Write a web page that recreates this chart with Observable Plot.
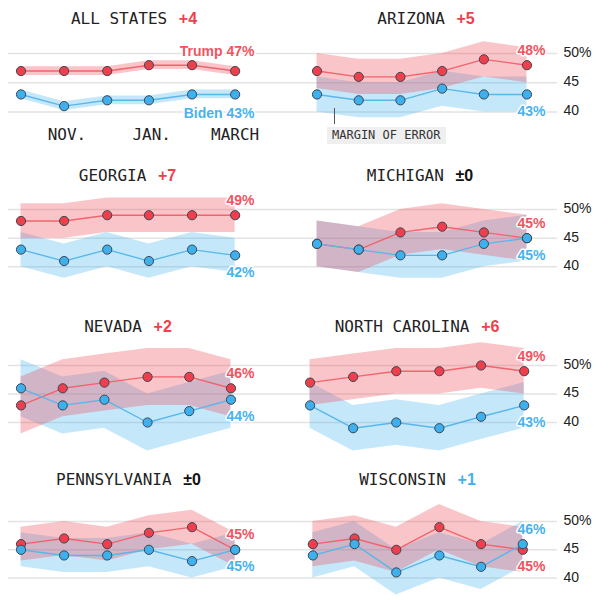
<!DOCTYPE html>
<html><head><meta charset="utf-8">
<script src="https://cdn.jsdelivr.net/npm/d3@7"></script>
<script src="https://cdn.jsdelivr.net/npm/@observablehq/plot@0.6"></script>
<style>
html,body{margin:0;padding:0;background:#fff;overflow:hidden;}
#chart{position:relative;width:615px;height:600px;}
#chart svg{position:absolute;}
.title{position:absolute;white-space:pre;font-family:"DejaVu Sans Mono",monospace;font-size:16px;line-height:20px;height:20px;color:#222;transform:translateX(-50%);}
.title .m{font-family:"Liberation Sans",Arial,sans-serif;font-weight:bold;margin-left:2px;}
.moe-tick{position:absolute;width:0;border-left:1.5px solid #555;}
.moe-box{position:absolute;background:#efefef;color:#333;font-family:"DejaVu Sans Mono",monospace;font-size:12px;line-height:17px;text-align:center;white-space:pre;}
</style></head><body><div id="chart"></div>
<script>
// ---------- data ----------
const stateNames = ["ALL STATES","ARIZONA","GEORGIA","MICHIGAN","NEVADA","NORTH CAROLINA","PENNSYLVANIA","WISCONSIN"];
const candidates = ["Trump","Biden"];
const trumpPct = [
  [47,47,47,48,48,47],
  [47,46,46,47,49,48],
  [48,48,49,49,49,49],
  [44,43,46,47,46,45],
  [43,46,47,48,48,46],
  [47,48,49,49,50,49],
  [46,47,46,48,49,45],
  [46,47,45,49,46,45]
];
const bidenPct = [
  [43,41,42,42,43,43],
  [43,42,42,44,43,43],
  [43,41,43,41,43,42],
  [44,43,42,42,44,45],
  [46,43,44,40,42,44],
  [43,39,40,39,41,43],
  [45,44,44,45,43,45],
  [44,46,41,44,42,46]
];
const marginOfError = [0.75, 3, 3, 4, 5, 4, 3, 4];
const pollDates = [
  ["2023-09-29","2023-10-30","2023-11-30","2023-12-30","2024-01-30","2024-03-01"],
  ["2023-09-29","2023-10-29","2023-11-28","2023-12-28","2024-01-27","2024-02-27"],
  ["2023-09-29","2023-10-30","2023-11-30","2023-12-30","2024-01-30","2024-03-01"],
  ["2023-09-29","2023-10-29","2023-11-28","2023-12-28","2024-01-27","2024-02-27"],
  ["2023-09-29","2023-10-29","2023-11-28","2023-12-29","2024-01-28","2024-02-27"],
  ["2023-09-24","2023-10-25","2023-11-25","2023-12-26","2024-01-25","2024-02-25"],
  ["2023-09-29","2023-10-30","2023-11-30","2023-12-30","2024-01-30","2024-03-01"],
  ["2023-09-26","2023-10-26","2023-11-25","2023-12-26","2024-01-25","2024-02-24"]
];
const monthTicks = ["2023-11-01","2024-01-01","2024-03-01"];
const monthLabels = ["NOV.","JAN.","MARCH"];
const gridTicks = [40, 45, 50];
const timeSpan = ["2023-09-20","2024-04-17"];
const moeNote = "MARGIN OF ERROR";

// ---------- layout / style ----------
const colLeft = [0, 296], colWidth = [300, 319], colML = [8, 4], colMR = [0, 58];
const labelDx = [-46, -12];
const rowGrid50 = [52.5, 208.7, 364.7, 520.7];
const rowGrid40 = [111, 266, 421.7, 577.3];
const rowTitleY = [18.8, 175.5, 326.5, 480];
const titleX = [134, 426, 127.5, 420, 128, 417, 128.5, 417.5];
const RED = "#ef3f4d", BLUE = "#3fb0ee";
const RED_LINE = "#f2636d", BLUE_LINE = "#58b8ec";
const RED_TXT = "#f2545f", BLUE_TXT = "#48b3ee";
const SANS = "Liberation Sans, Arial, sans-serif";
const MONO = "DejaVu Sans Mono, monospace";

const parse = d3.utcParse("%Y-%m-%d");
const xDomain = timeSpan.map(parse);
const monthTickDates = monthTicks.map(parse);
const monthLabelOf = d => monthLabels[monthTickDates.findIndex(t => +t === +d)];
const chart = document.getElementById("chart");

stateNames.forEach((name, i) => {
  const col = i % 2, row = Math.floor(i / 2);
  const isAll = i === 0;
  const rows = pollDates[i].map((s, j) => ({
    date: parse(s), trump: trumpPct[i][j], biden: bidenPct[i][j], moe: marginOfError[i]
  }));
  const top = rowGrid50[row] - 40;
  const height = row === 3 ? 119 : 140;
  const last = rows[rows.length - 1];
  const trumpLeads = last.trump >= last.biden;
  const tLabel = [{value: last.trump, text: (isAll ? candidates[0] + " " : "") + last.trump + "%"}];
  const bLabel = [{value: last.biden, text: (isAll ? candidates[1] + " " : "") + last.biden + "%"}];
  const upDy = isAll ? -20 : -15, downDy = isAll ? 19 : 17;
  const labelOpts = {y: "value", text: "text", frameAnchor: "right", textAnchor: "end",
    dx: labelDx[col], fontFamily: SANS, fontWeight: "bold", fontSize: 14,
    stroke: "white", strokeWidth: 3};

  const marks = [
    Plot.ruleY(gridTicks, {stroke: "#e3e3e3", strokeWidth: 1.5}),
    Plot.areaY(rows, {x: "date", y1: d => d.biden - d.moe, y2: d => d.biden + d.moe, fill: BLUE, fillOpacity: 0.3}),
    Plot.areaY(rows, {x: "date", y1: d => d.trump - d.moe, y2: d => d.trump + d.moe, fill: RED, fillOpacity: 0.3}),
    Plot.line(rows, {x: "date", y: "trump", stroke: RED_LINE, strokeWidth: 1.4}),
    Plot.line(rows, {x: "date", y: "biden", stroke: BLUE_LINE, strokeWidth: 1.4}),
    Plot.dot(rows, {x: "date", y: "trump", r: 4.6, fill: RED, stroke: "#3b4652", strokeWidth: 1}),
    Plot.dot(rows, {x: "date", y: "biden", r: 4.6, fill: BLUE, stroke: "#3b4652", strokeWidth: 1}),
    Plot.text(tLabel, {...labelOpts, fill: RED_TXT, dy: trumpLeads ? upDy : downDy}),
    Plot.text(bLabel, {...labelOpts, fill: BLUE_TXT, dy: trumpLeads ? downDy : upDy})
  ];
  if (isAll) {
    marks.push(Plot.axisX(monthTickDates, {anchor: "bottom", tickSize: 0, tickPadding: 3,
      tickFormat: monthLabelOf, fontFamily: MONO, fontSize: 16, fill: "#222", label: null}));
  }
  if (col === 1) {
    marks.push(Plot.axisY(gridTicks, {anchor: "right", tickSize: 0, tickPadding: 6,
      tickFormat: d => d === 50 ? "50%" : String(d), fontFamily: SANS, fontSize: 14,
      fill: "#222", label: null, dy: -1}));
  }
  const svg = Plot.plot({
    width: colWidth[col], height,
    marginLeft: colML[col], marginRight: colMR[col], marginTop: 0, marginBottom: isAll ? 28 : 0,
    x: isAll ? {type: "utc", domain: xDomain, range: [8, 300]} : {type: "utc", domain: xDomain, range: [8, 300], axis: null},
    y: col === 1 ? {domain: [40, 50], range: [rowGrid40[row] - top, 40]} : {domain: [40, 50], range: [rowGrid40[row] - top, 40], axis: null},
    style: {overflow: "visible", background: "transparent"},
    marks
  });
  svg.style.left = colLeft[col] + "px";
  svg.style.top = top + "px";
  chart.appendChild(svg);

  // title
  const diff = last.trump - last.biden;
  const t = document.createElement("div");
  t.className = "title";
  t.style.left = titleX[i] + "px";
  t.style.top = (rowTitleY[row] - 9.7) + "px";
  const nm = document.createElement("span");
  nm.textContent = name + " ";
  const m = document.createElement("span");
  m.className = "m";
  m.textContent = diff === 0 ? "±0" : "+" + Math.abs(diff);
  m.style.color = diff > 0 ? RED : diff < 0 ? BLUE : "#111";
  t.appendChild(nm); t.appendChild(m);
  chart.appendChild(t);
});

// margin of error annotation (Arizona panel)
const tick = document.createElement("div");
tick.className = "moe-tick";
Object.assign(tick.style, {left: "333.5px", top: "108px", height: "16px"});
chart.appendChild(tick);
const box = document.createElement("div");
box.className = "moe-box";
Object.assign(box.style, {left: "326.7px", top: "126.7px", width: "119px", height: "17px"});
box.textContent = moeNote;
chart.appendChild(box);
</script>
</body></html>
